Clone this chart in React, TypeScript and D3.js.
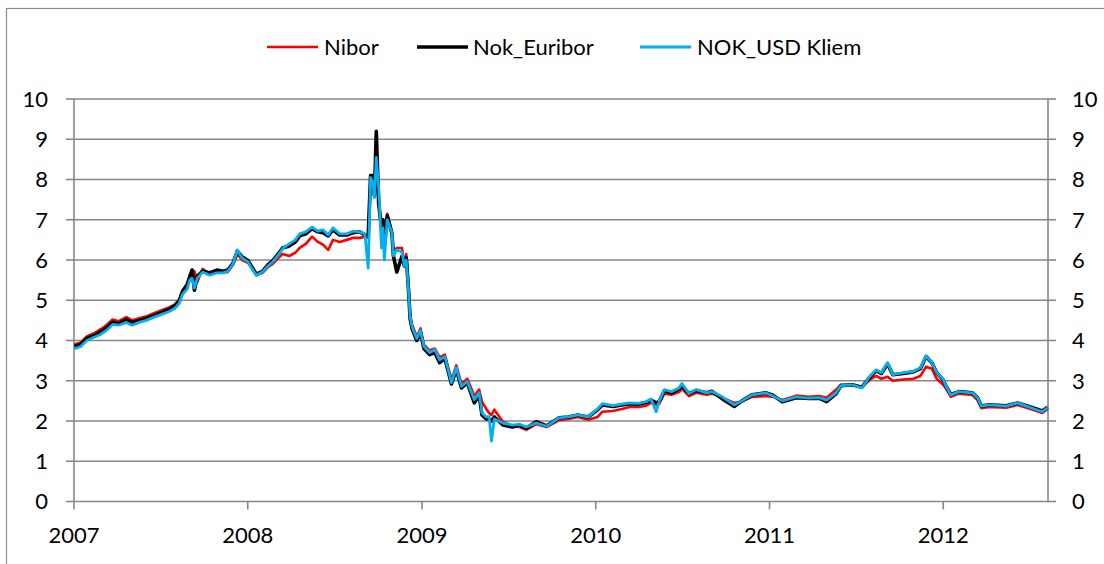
import * as d3 from "d3";

// dates shared by all three series (yyyy-mm-dd)
const dates = [
  "2007-01-02", "2007-01-15", "2007-01-28", "2007-02-12", "2007-02-26", "2007-03-10", "2007-03-23", "2007-04-05",
  "2007-04-21", "2007-05-03", "2007-05-18", "2007-06-02", "2007-06-18", "2007-07-04", "2007-07-20", "2007-08-01",
  "2007-08-10", "2007-08-17", "2007-08-27", "2007-09-01", "2007-09-06", "2007-09-11", "2007-09-17", "2007-09-28",
  "2007-10-13", "2007-10-28", "2007-11-10", "2007-11-20", "2007-12-01", "2007-12-10", "2007-12-20", "2008-01-02",
  "2008-01-10", "2008-01-19", "2008-02-01", "2008-02-12", "2008-02-22", "2008-03-05", "2008-03-14", "2008-03-28",
  "2008-04-10", "2008-04-19", "2008-05-02", "2008-05-15", "2008-05-27", "2008-06-07", "2008-06-18", "2008-06-28",
  "2008-07-12", "2008-07-27", "2008-08-10", "2008-08-23", "2008-09-03", "2008-09-10", "2008-09-15", "2008-09-19",
  "2008-09-23", "2008-09-27", "2008-10-02", "2008-10-08", "2008-10-11", "2008-10-14", "2008-10-20", "2008-10-30",
  "2008-11-02", "2008-11-09", "2008-11-20", "2008-11-25", "2008-11-29", "2008-12-04", "2008-12-07", "2008-12-11",
  "2008-12-21", "2008-12-29", "2009-01-05", "2009-01-17", "2009-01-28", "2009-02-07", "2009-02-18", "2009-03-04",
  "2009-03-14", "2009-03-25", "2009-04-06", "2009-04-21", "2009-05-01", "2009-05-07", "2009-05-16", "2009-05-22",
  "2009-05-27", "2009-06-02", "2009-06-20", "2009-07-10", "2009-07-25", "2009-08-08", "2009-08-29", "2009-09-20",
  "2009-10-16", "2009-11-05", "2009-11-24", "2009-12-16", "2010-01-05", "2010-01-15", "2010-02-06", "2010-02-25",
  "2010-03-13", "2010-04-01", "2010-04-17", "2010-04-27", "2010-05-08", "2010-05-14", "2010-05-25", "2010-06-09",
  "2010-06-25", "2010-07-01", "2010-07-16", "2010-07-31", "2010-08-22", "2010-09-02", "2010-09-24", "2010-10-19",
  "2010-11-04", "2010-11-25", "2010-12-24", "2011-01-08", "2011-01-28", "2011-02-26", "2011-03-25", "2011-04-16",
  "2011-05-01", "2011-05-21", "2011-05-31", "2011-06-24", "2011-07-14", "2011-07-30", "2011-08-13", "2011-08-24",
  "2011-09-06", "2011-09-17", "2011-10-09", "2011-10-30", "2011-11-14", "2011-11-26", "2011-12-08", "2011-12-18",
  "2012-01-01", "2012-01-07", "2012-01-17", "2012-02-03", "2012-03-02", "2012-03-13", "2012-03-21", "2012-04-06",
  "2012-05-12", "2012-06-05", "2012-06-24", "2012-07-15", "2012-07-27", "2012-08-07",
];

const nibor = [
  3.9, 3.95, 4.1, 4.18, 4.28, 4.38, 4.52, 4.48, 4.58, 4.5, 4.55, 4.6, 4.68, 4.75, 4.82, 4.9,
  5.02, 5.25, 5.35, 5.62, 5.5, 5.72, 5.45, 5.78, 5.65, 5.72, 5.7, 5.7, 5.88, 6.15, 6.0, 5.92,
  5.8, 5.62, 5.68, 5.82, 5.9, 6.05, 6.15, 6.1, 6.18, 6.3, 6.4, 6.58, 6.45, 6.38, 6.25, 6.5,
  6.45, 6.5, 6.55, 6.55, 6.58, 6.55, 7.9, 8.0, 7.65, 8.2, 7.6, 6.6, 6.9, 6.4, 7.15, 6.7,
  6.2, 6.3, 6.3, 5.9, 6.15, 5.3, 4.65, 4.4, 4.1, 4.3, 3.9, 3.75, 3.8, 3.58, 3.65, 3.02,
  3.38, 2.92, 3.05, 2.62, 2.78, 2.48, 2.3, 2.2, 2.15, 2.28, 1.98, 1.88, 1.85, 1.78, 1.92, 1.85,
  2.02, 2.05, 2.1, 2.03, 2.1, 2.23, 2.25, 2.3, 2.35, 2.35, 2.38, 2.45, 2.4, 2.42, 2.68, 2.65,
  2.72, 2.8, 2.62, 2.7, 2.65, 2.68, 2.58, 2.45, 2.48, 2.6, 2.62, 2.6, 2.52, 2.63, 2.6, 2.62,
  2.58, 2.78, 2.9, 2.88, 2.85, 3.02, 3.12, 3.05, 3.1, 3.0, 3.03, 3.05, 3.12, 3.35, 3.3, 3.05,
  2.9, 2.8, 2.6, 2.68, 2.65, 2.52, 2.32, 2.35, 2.33, 2.4, 2.33, 2.25, 2.2, 2.3,
];

const nokEuribor = [
  3.85, 3.9, 4.05, 4.12, 4.22, 4.32, 4.45, 4.42, 4.52, 4.45, 4.5, 4.55, 4.62, 4.7, 4.78, 4.86,
  4.98, 5.22, 5.4, 5.58, 5.75, 5.25, 5.6, 5.72, 5.68, 5.75, 5.72, 5.75, 5.92, 6.22, 6.08, 5.98,
  5.82, 5.65, 5.72, 5.88, 5.98, 6.15, 6.3, 6.35, 6.45, 6.6, 6.65, 6.78, 6.7, 6.68, 6.6, 6.75,
  6.62, 6.62, 6.68, 6.7, 6.62, 6.6, 8.1, 8.1, 7.6, 9.2, 7.4, 6.8, 7.0, 6.35, 7.1, 6.65,
  6.1, 5.7, 6.1, 5.85, 6.05, 5.2, 4.55, 4.3, 4.0, 4.2, 3.8, 3.65, 3.7, 3.45, 3.55, 2.92,
  3.28, 2.82, 2.95, 2.45, 2.65, 2.15, 2.05, 2.05, 2.0, 2.1, 1.9, 1.85, 1.9, 1.82, 1.98, 1.88,
  2.08, 2.1, 2.15, 2.1, 2.28, 2.4, 2.36, 2.4, 2.43, 2.42, 2.46, 2.52, 2.45, 2.48, 2.75, 2.7,
  2.8, 2.88, 2.68, 2.76, 2.7, 2.74, 2.55, 2.36, 2.5, 2.65, 2.7, 2.64, 2.48, 2.58, 2.56, 2.56,
  2.48, 2.68, 2.88, 2.9, 2.84, 3.08, 3.25, 3.18, 3.42, 3.15, 3.18, 3.22, 3.3, 3.6, 3.45, 3.2,
  3.02, 2.86, 2.66, 2.73, 2.7, 2.58, 2.37, 2.4, 2.38, 2.45, 2.38, 2.3, 2.25, 2.34,
];

const nokUsdKliem = [
  3.8, 3.85, 4.0, 4.08, 4.15, 4.25, 4.4, 4.38, 4.45, 4.38, 4.45, 4.5, 4.58, 4.65, 4.72, 4.8,
  4.92, 5.15, 5.28, 5.5, 5.55, 5.3, 5.55, 5.7, 5.62, 5.68, 5.68, 5.72, 5.9, 6.25, 6.05, 5.95,
  5.78, 5.62, 5.7, 5.85, 5.95, 6.12, 6.28, 6.4, 6.5, 6.65, 6.7, 6.82, 6.72, 6.75, 6.62, 6.8,
  6.65, 6.65, 6.72, 6.7, 6.65, 5.8, 8.05, 7.95, 7.55, 8.55, 7.8, 6.3, 6.8, 6.0, 7.0, 6.68,
  6.1, 6.25, 6.2, 5.85, 6.0, 5.2, 4.6, 4.35, 4.05, 4.25, 3.85, 3.7, 3.77, 3.52, 3.6, 2.95,
  3.33, 2.86, 2.98, 2.53, 2.7, 2.2, 2.1, 2.11, 1.5, 2.05, 1.95, 1.9, 1.92, 1.85, 1.95, 1.87,
  2.08, 2.1, 2.15, 2.1, 2.3, 2.43, 2.38, 2.42, 2.45, 2.44, 2.48, 2.55, 2.23, 2.48, 2.78, 2.73,
  2.82, 2.93, 2.68, 2.78, 2.7, 2.73, 2.6, 2.4, 2.5, 2.65, 2.7, 2.62, 2.5, 2.6, 2.57, 2.58,
  2.52, 2.7, 2.88, 2.9, 2.82, 3.1, 3.27, 3.2, 3.45, 3.15, 3.2, 3.23, 3.32, 3.62, 3.45, 3.2,
  3.03, 2.86, 2.65, 2.73, 2.7, 2.58, 2.37, 2.4, 2.37, 2.45, 2.37, 2.28, 2.23, 2.33,
];

const yTicks = [0, 1, 2, 3, 4, 5, 6, 7, 8, 9, 10];
const xTickYears = ["2007", "2008", "2009", "2010", "2011", "2012"];

const series = [
  { name: "Nibor", values: nibor, color: "#ff0000", width: 2.6 },
  { name: "Nok_Euribor", values: nokEuribor, color: "#000000", width: 3.6 },
  { name: "NOK_USD Kliem", values: nokUsdKliem, color: "#00b0f0", width: 2.8 },
];

const W = 1104;
const H = 564;
const margin = { top: 99, right: 56, bottom: 62, left: 74 };
const font = "Lato, 'Open Sans', sans-serif";
const gridColor = "#878787";
const fontSize = 22;

const parse = d3.timeParse("%Y-%m-%d");

export default function App() {
  const parsed = dates.map((d) => parse(d) as Date);

  const x = d3
    .scaleTime()
    .domain([parse("2007-01-01") as Date, parse("2012-08-08") as Date])
    .range([margin.left, W - margin.right]);

  const y = d3.scaleLinear().domain([0, 10]).range([H - margin.bottom - 0.5, margin.top]);

  const line = d3
    .line<[Date, number]>()
    .x((d) => x(d[0]))
    .y((d) => y(d[1]));

  const x0 = margin.left;
  const x1 = W - margin.right;
  const yBase = y(0);

  // legend layout
  const legendItems = [
    { lx: 267, tx: 324 },
    { lx: 417, tx: 473 },
    { lx: 640, tx: 697 },
  ];
  const legendY = 47;

  return (
    <svg
      width={W}
      height={H}
      style={{ position: "absolute", left: 0, top: 0, background: "#fff" }}
      fontFamily={font}
    >
      <rect x={6.5} y={8.5} width={W + 20} height={H + 20} fill="#fff" stroke="#8c8c8c" strokeWidth={1.2} />

      {/* gridlines */}
      {yTicks
        .filter((t) => t > 0)
        .map((t) => (
          <line key={t} x1={x0} x2={x1} y1={y(t)} y2={y(t)} stroke={gridColor} strokeWidth={1.6} />
        ))}

      {/* axes */}
      <line x1={x0} x2={x0} y1={y(10)} y2={yBase} stroke={gridColor} strokeWidth={1.6} />
      <line x1={x1} x2={x1} y1={y(10)} y2={yBase} stroke={gridColor} strokeWidth={1.6} />
      <line x1={x0} x2={x1} y1={yBase} y2={yBase} stroke={gridColor} strokeWidth={1.6} />

      {yTicks.map((t) => (
        <g key={"yt" + t}>
          <line x1={x0 - 8} x2={x0} y1={y(t)} y2={y(t)} stroke={gridColor} strokeWidth={1.6} />
          <line x1={x1} x2={x1 + 8} y1={y(t)} y2={y(t)} stroke={gridColor} strokeWidth={1.6} />
          <text x={48} y={y(t)} dy="0.36em" textAnchor="end" fontSize={fontSize} fill="#000">
            {t}
          </text>
          <text x={1072} y={y(t)} dy="0.36em" textAnchor="start" fontSize={fontSize} fill="#000">
            {t}
          </text>
        </g>
      ))}

      {xTickYears.map((yr) => {
        const px = x(parse(yr + "-01-01") as Date);
        return (
          <g key={yr}>
            <line x1={px} x2={px} y1={yBase} y2={yBase + 8} stroke={gridColor} strokeWidth={1.6} />
            <text x={px} y={543} textAnchor="middle" fontSize={fontSize} fill="#000">
              {yr}
            </text>
          </g>
        );
      })}

      {/* series */}
      {series.map((s) => (
        <path
          key={s.name}
          d={line(parsed.map((d, i) => [d, s.values[i]] as [Date, number])) || ""}
          fill="none"
          stroke={s.color}
          strokeWidth={s.width}
          strokeLinejoin="round"
        />
      ))}

      {/* legend */}
      {series.map((s, i) => (
        <g key={"lg" + s.name}>
          <line
            x1={legendItems[i].lx}
            x2={legendItems[i].lx + 51}
            y1={legendY}
            y2={legendY}
            stroke={s.color}
            strokeWidth={s.width}
          />
          <text x={legendItems[i].tx} y={legendY} dy="0.36em" fontSize={fontSize} fill="#000">
            {s.name}
          </text>
        </g>
      ))}
    </svg>
  );
}
